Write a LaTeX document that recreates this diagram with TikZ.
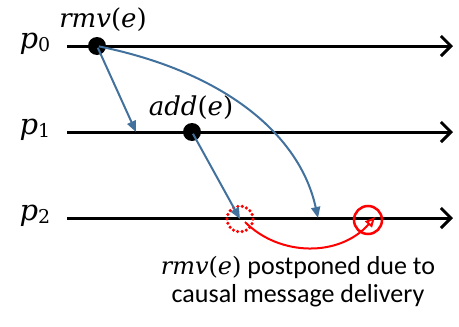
\documentclass[tikz,border=0pt]{standalone}
\usepackage{fontspec}
\setmainfont{Carlito}
\newfontfamily\evfont{DejaVu Serif}
\usepackage{tikz}
\usetikzlibrary{arrows.meta,positioning}

\newcommand{\evt}[2]{{\evfont\textit{#1}(\textit{#2})}}
\newcommand{\prc}[1]{{\evfont\itshape p\/}\raisebox{-0.2ex}{\evfont\fontsize{19}{19}\selectfont #1}}

\begin{document}
\begin{tikzpicture}[x=1pt,y=-1pt,
  timeline/.style={line width=3pt, -{Straight Barb[length=10pt,width=20pt,line width=3pt]}},
  dot/.style={circle, fill=black, inner sep=0pt, minimum size=18pt},
  msg/.style={draw=msgblue, line width=2pt, -{Triangle[length=11pt,width=9pt]}},
  proc/.style={font=\fontsize{29}{32}\selectfont},
  lbl/.style={font=\fontsize{26}{28}\selectfont, inner sep=1pt}]

\definecolor{msgblue}{RGB}{65,113,156}
\useasboundingbox (0,0) rectangle (459,327);

% ===== Processes =====

\node[proc] (p0) at (35,44) {\prc{0}};
\node[proc] (p1) at (35,130) {\prc{1}};
\node[proc] (p2) at (35,216) {\prc{2}};

\coordinate (s0) at (67,46);  \coordinate (e0) at (453,46);
\coordinate (s1) at (67,132); \coordinate (e1) at (453,132);
\coordinate (s2) at (67,218); \coordinate (e2) at (453,218);

\draw[timeline] (s0) -- (e0);
\draw[timeline] (s1) -- (e1);
\draw[timeline] (s2) -- (e2);

% ===== Events =====

\node[dot] (rmv) at (97,46) {};
\node[dot] (add) at (192,132) {};
\node[lbl, above=4pt of rmv, xshift=6pt] (rmvlbl) {\evt{rmv}{e}};
\node[lbl, above=2pt of add, xshift=-1pt] (addlbl) {\evt{add}{e}};

\node[circle, draw=red, dash pattern=on 0pt off 4.5pt, line cap=round, line width=3.5pt, minimum size=26pt, inner sep=0pt] (wait) at (240,219) {};
\node[circle, draw=red, line width=2.5pt, minimum size=28pt, inner sep=0pt] (deliver) at (368,220) {};

% ===== Messages =====

\coordinate (r1) at (136,132);
\coordinate (r2) at (318,218);
\draw[msg, shorten <=2pt] (rmv.center) -- (r1);
\draw[msg, shorten <=2pt] (rmv.center) .. controls (225,72) and (300,135) .. (r2);
\draw[msg, shorten <=2pt] (add.center) -- (wait.center);

\coordinate (red0) at (245,222);
\coordinate (red1) at (375,217);
\draw[red, line width=2pt, -{Triangle[open, length=10pt, width=9pt, line width=2pt]}]
  (red0) .. controls (280,257) and (340,257) .. (red1);

% ===== Note =====

\node[align=center, font=\fontsize{26}{28}\selectfont] (note) at (298,282)
  {{\fontsize{24}{28}\selectfont\evt{rmv}{e}} postponed due to\\causal message delivery};

\end{tikzpicture}
\end{document}
